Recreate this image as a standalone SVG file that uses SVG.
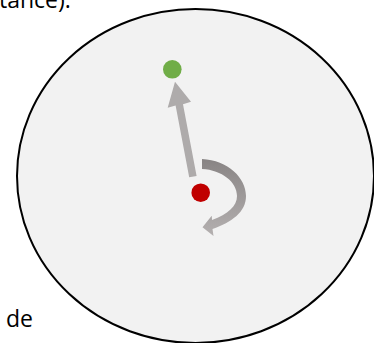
<svg xmlns="http://www.w3.org/2000/svg" width="374" height="343" viewBox="0 0 374 343">
<defs>
<linearGradient id="rot" x1="0" y1="159" x2="0" y2="236" gradientUnits="userSpaceOnUse">
<stop offset="0" stop-color="#888484"/>
<stop offset="1" stop-color="#b4b0b0"/>
</linearGradient>
<style>
.lbl{font-family:"Open Sans","Liberation Sans",sans-serif;font-size:23px;fill:#000}
.dot{stroke:none}
</style>
</defs>
<rect width="374" height="343" fill="#ffffff"/>
<text class="lbl" x="-1" y="7.5">tance).</text>
<text class="lbl" x="6" y="327">de</text>
<g id="boundary">
<ellipse cx="195.5" cy="176" rx="178.5" ry="167" fill="#f2f2f2" stroke="#000" stroke-width="2"/>
</g>
<g id="connectors">
<path d="M189.2,177.2 L196.6,175.9 L183,104.2 L191,101.7 L175,81.7 L167.7,107.7 L175.6,105.6 Z" fill="#aeabab"/>
<path d="M202,159 C228,160 246,178 246,196 C246,212 232,222 212.5,229 L213.5,236 L202.5,227.3 L211.7,215.7 L212,220 C228,214 237,206 237,196 C237,182 222,170 202,169 Z" fill="url(#rot)"/>
</g>
<g id="target">
<circle class="dot" cx="172.3" cy="69.3" r="9.3" fill="#70ad47"/>
</g>
<g id="source">
<circle class="dot" cx="200.7" cy="192.7" r="9.3" fill="#c00000"/>
</g>
</svg>
